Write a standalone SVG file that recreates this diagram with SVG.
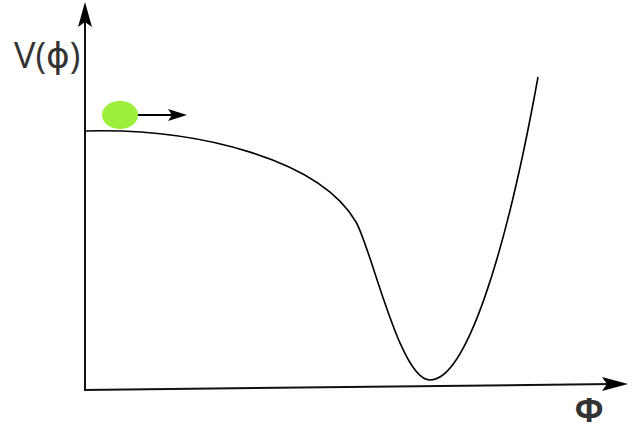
<svg xmlns="http://www.w3.org/2000/svg" width="643" height="431" viewBox="0 0 643 431">
<style>
.ax{stroke:#111;stroke-width:2;fill:none}
.cv{stroke:#000;stroke-width:1.6;fill:none}
.lbl{font-family:"Open Sans","DejaVu Sans",sans-serif;fill:#333}
</style>
<rect width="643" height="431" fill="#fff"/>
<g id="axes">
<line class="ax" x1="85" y1="391" x2="85" y2="20"/>
<polygon points="85,2 78,27 85,22 92,27" fill="#000"/>
<line class="ax" x1="84" y1="390" x2="612" y2="384"/>
<polygon points="628,384 602,377 607,384 602,391" fill="#000"/>
</g>
<g id="curve">
<path class="cv" d="M85,131 C200,128 320,160 356,222 C372,250 400,380 430,380 C465,380 505,260 538,77"/>
</g>
<g id="ball">
<ellipse cx="120" cy="115" rx="18" ry="14" fill="#9cf03a"/>
<line x1="138" y1="115" x2="174" y2="115" stroke="#000" stroke-width="2"/>
<polygon points="187,115 168,109 172,115 168,121" fill="#000"/>
</g>
<g id="labels">
<text class="lbl" x="14" y="68" font-size="36">V(ϕ)</text>
<text class="lbl" x="589" y="422" font-size="34" font-weight="bold" text-anchor="middle">Φ</text>
</g>
</svg>
